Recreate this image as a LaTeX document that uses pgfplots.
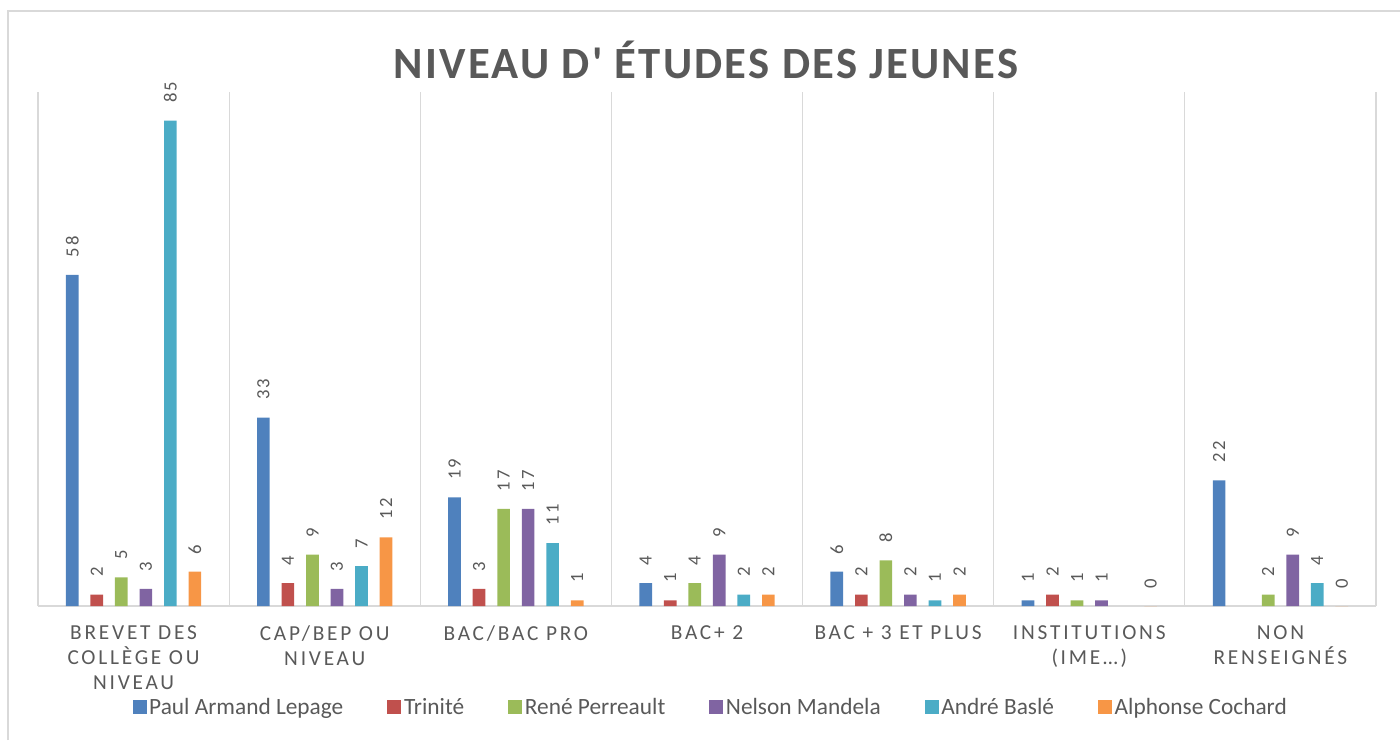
\documentclass[border=0pt]{standalone}
\usepackage{fontspec}
\setmainfont{Carlito}
\newfontfamily\spaced[LetterSpace=13]{Carlito}
\newfontfamily\titlefont[LetterSpace=5]{Carlito}
\usepackage{pgfplots}
\pgfplotsset{compat=1.18}

\definecolor{cblue}{HTML}{4F81BD}
\definecolor{cred}{HTML}{C0504D}
\definecolor{cgreen}{HTML}{9BBB59}
\definecolor{cpurple}{HTML}{8064A2}
\definecolor{cteal}{HTML}{4BACC6}
\definecolor{corange}{HTML}{F79646}
\definecolor{txtgray}{HTML}{595959}
\definecolor{gridgray}{HTML}{D9D9D9}

\begin{document}
\begin{tikzpicture}
% canvas 1400x740 px, 1px = 0.75pt
\useasboundingbox (0,0) rectangle (1050pt,555pt);
\draw[gridgray, line width=2pt] (6pt,0pt) -- (6pt,546.75pt) -- (1050pt,546.75pt);

\node[text=txtgray, font={\titlefont\bfseries\fontsize{33.5}{38}\selectfont}]
  at (529.5pt,510pt) {NIVEAU D' ÉTUDES DES JEUNES};

\begin{axis}[
  at={(28.5pt,100.5pt)}, anchor=south west,
  scale only axis,
  width=1003.5pt, height=385.5pt,
  ybar=8.9pt, bar width=9.5pt,
  xmin=-0.5, xmax=6.5,
  ymin=0, ymax=90,
  axis x line*=bottom, axis y line=none,
  axis line style={-, draw=gridgray, line width=1.1pt},
  xtick={0,...,6},
  minor xtick={-0.5,0.5,...,6.5},
  xminorgrids=true,
  minor grid style={gridgray, line width=0.8pt},
  major tick length=0pt, minor tick length=0pt,
  xticklabels={
    BREVET DES\\COLLÈGE OU\\NIVEAU,
    CAP/BEP OU\\NIVEAU,
    BAC/BAC PRO,
    BAC+ 2,
    BAC + 3 ET PLUS,
    INSTITUTIONS\\(IME…),
    NON\\RENSEIGNÉS},
  xticklabel style={align=center, anchor=north, yshift=-11pt, text=txtgray,
    font={\spaced\fontsize{16}{19}\selectfont}},
  /pgf/number format/assume math mode=true,
  nodes near coords,
  every node near coord/.append style={rotate=90, anchor=west, inner sep=0pt,
    inner xsep=13pt, text=txtgray, font={\spaced\fontsize{14}{16}\selectfont}},
  legend columns=6,
  legend style={at={(0.503,-0.1965)}, anchor=center, draw=none, fill=none,
    font={\fontsize{17.5}{20}\selectfont}, text=txtgray,
    /tikz/every even column/.append style={column sep=31pt}},
  legend image code/.code={\fill[#1] (0pt,-5.25pt) rectangle (10.5pt,5.25pt);},
]
\addplot[fill=cblue, draw=none] coordinates {(0,58) (1,33) (2,19) (3,4) (4,6) (5,1) (6,22)};
\addlegendentry{Paul Armand Lepage}
\addplot[fill=cred, draw=none] coordinates {(0,2) (1,4) (2,3) (3,1) (4,2) (5,2)};
\addlegendentry{Trinité}
\addplot[fill=cgreen, draw=none] coordinates {(0,5) (1,9) (2,17) (3,4) (4,8) (5,1) (6,2)};
\addlegendentry{René Perreault}
\addplot[fill=cpurple, draw=none] coordinates {(0,3) (1,3) (2,17) (3,9) (4,2) (5,1) (6,9)};
\addlegendentry{Nelson Mandela}
\addplot[fill=cteal, draw=none] coordinates {(0,85) (1,7) (2,11) (3,2) (4,1) (6,4)};
\addlegendentry{André Baslé}
\addplot[fill=corange, draw=none] coordinates {(0,6) (1,12) (2,1) (3,2) (4,2) (5,0) (6,0)};
\addlegendentry{Alphonse Cochard}
\end{axis}
\end{tikzpicture}
\end{document}
